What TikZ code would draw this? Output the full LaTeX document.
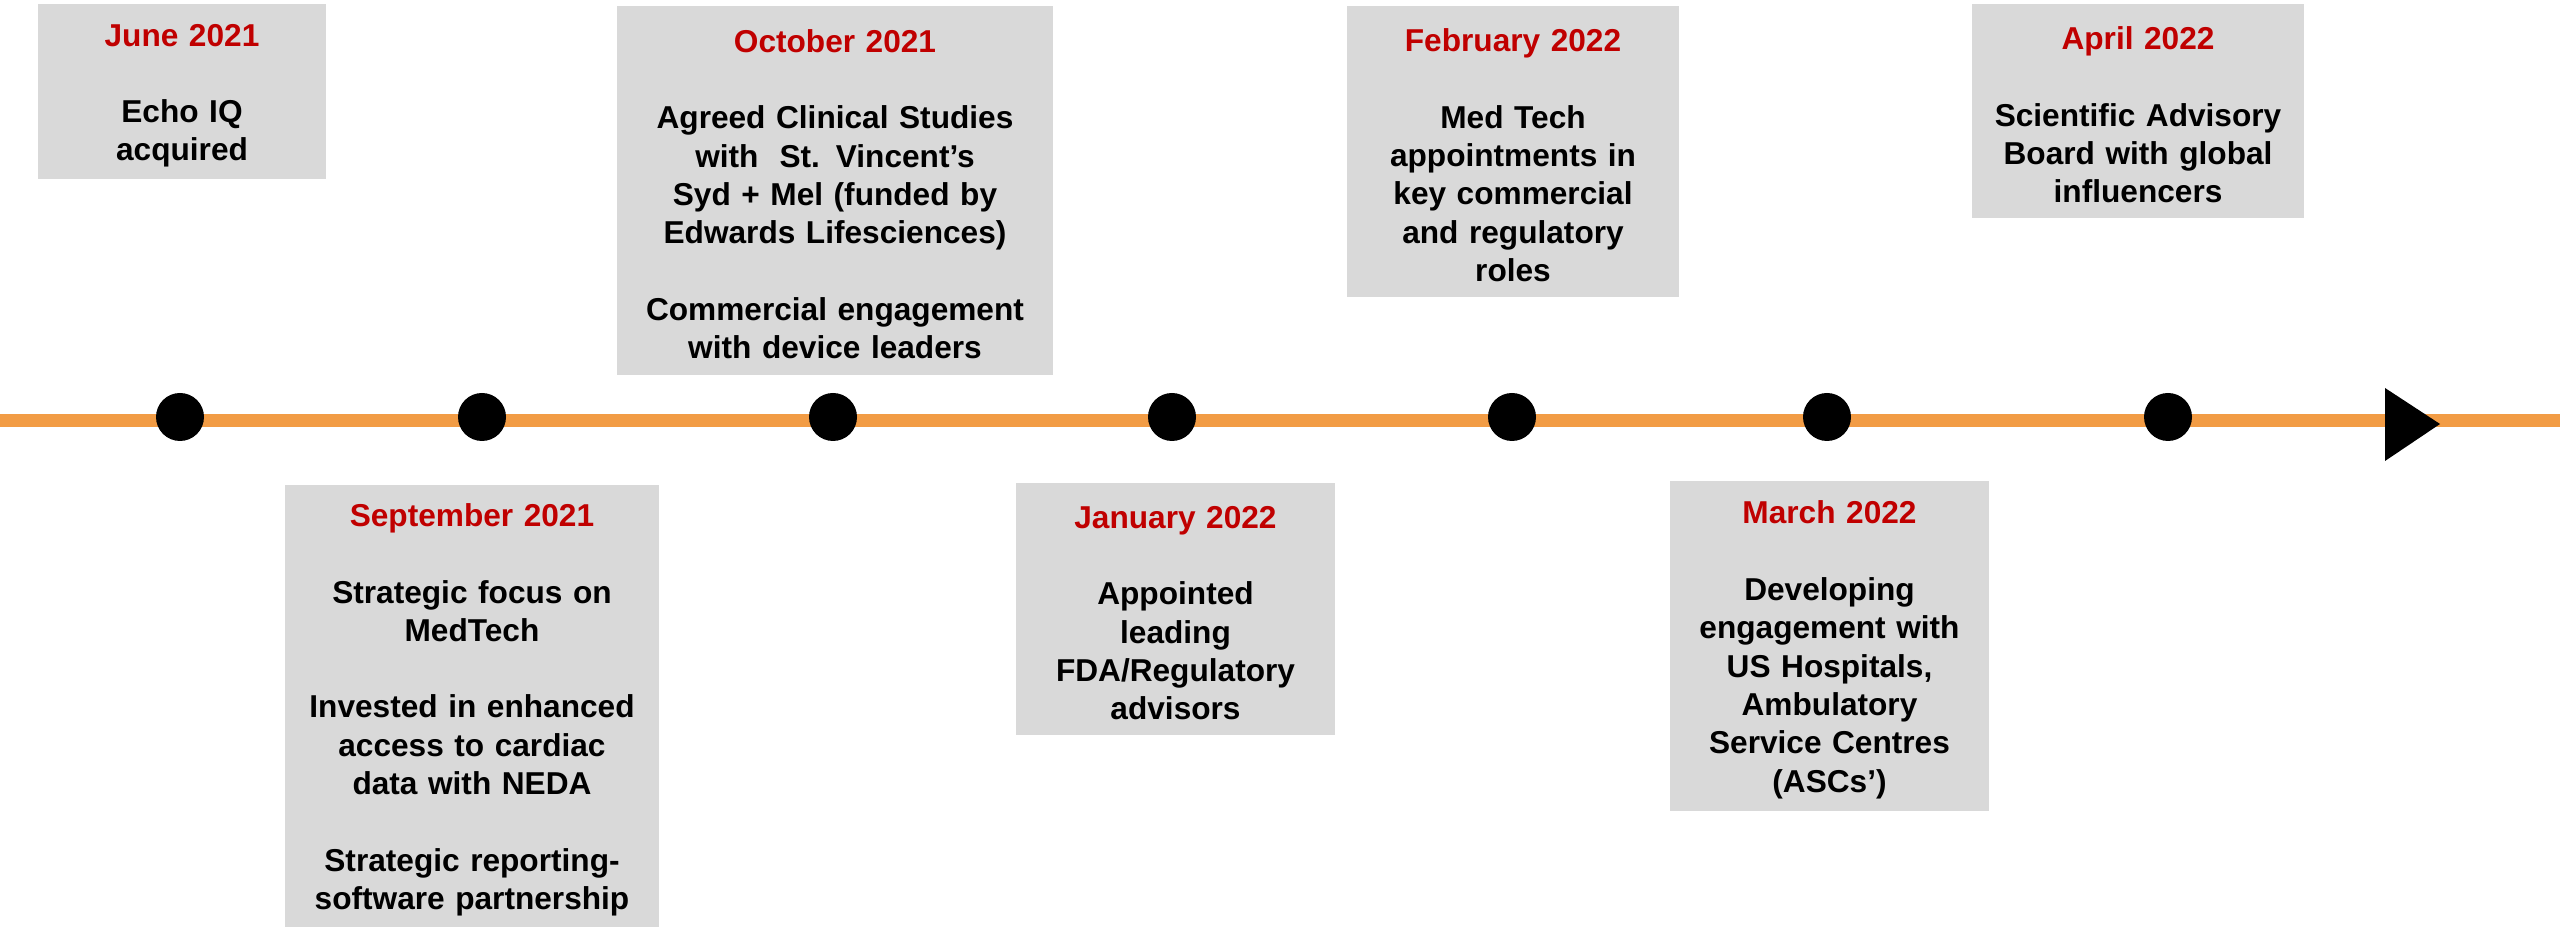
\documentclass[tikz,border=0pt]{standalone}
\usepackage{fontspec}
\setmainfont{Liberation Sans}
\definecolor{datered}{HTML}{C00000}
\definecolor{boxgrey}{HTML}{D9D9D9}
\definecolor{lineorange}{HTML}{F29C45}
\newcommand{\when}[1]{\textcolor{datered}{#1}\\[10.9pt]}
\begin{document}
\begin{tikzpicture}[font=\fontsize{9}{10.9}\selectfont\bfseries, line join=round,
    event/.style={fill=boxgrey, inner sep=0pt, align=center, text width=#1, text height=8.7pt},
    milestone/.style={circle, fill=black, inner sep=0pt, minimum size=0.48cm}]
    \useasboundingbox (0,0) rectangle (25.6,9.27);
    % time line
    \draw[lineorange, line width=0.13cm] (0,5.065) -- (25.6,5.065);
    \fill (23.85,5.39) -- (24.40,5.03) -- (23.85,4.66) -- cycle;
    \foreach \x [count=\i] in {1.80,4.82,8.33,11.72,15.12,18.27,21.68}
    \node[milestone] (m\i) at (\x,5.10) {};
    % boxes above
    \node[event=2.88cm, minimum height=1.75cm] (jun21) at (1.82,8.355)
        {\when{June 2021}Echo IQ\\acquired};
    \node[event=4.36cm, minimum height=3.69cm] (oct21) at (8.35,7.365)
        {\when{October 2021}Agreed Clinical Studies\\with~\ St. Vincent’s\\Syd + Mel (funded by\\Edwards Lifesciences)\\[10.9pt]Commercial engagement\\with device leaders};
    \node[event=3.32cm, minimum height=2.91cm] (feb22) at (15.13,7.755)
        {\when{February 2022}Med Tech\\appointments in\\key commercial\\and regulatory\\roles};
    \node[event=3.32cm, minimum height=2.14cm] (apr22) at (21.38,8.16)
        {\when{April 2022}Scientific Advisory\\Board with global\\influencers};
    % boxes below
    \node[event=3.74cm, minimum height=4.42cm] (sep21) at (4.72,2.21)
        {\when{September 2021}Strategic focus on\\MedTech\\[10.9pt]Invested in enhanced\\access to cardiac\\data with NEDA\\[10.9pt]Strategic reporting-\\software partnership};
    \node[event=3.19cm, minimum height=2.52cm] (jan22) at (11.755,3.18)
        {\when{January 2022}Appointed\\leading\\FDA/Regulatory\\advisors};
    \node[event=3.19cm, minimum height=3.30cm] (mar22) at (18.295,2.81)
        {\when{March 2022}Developing\\engagement with\\US Hospitals,\\Ambulatory\\Service Centres\\(ASCs’)};
\end{tikzpicture}
\end{document}
